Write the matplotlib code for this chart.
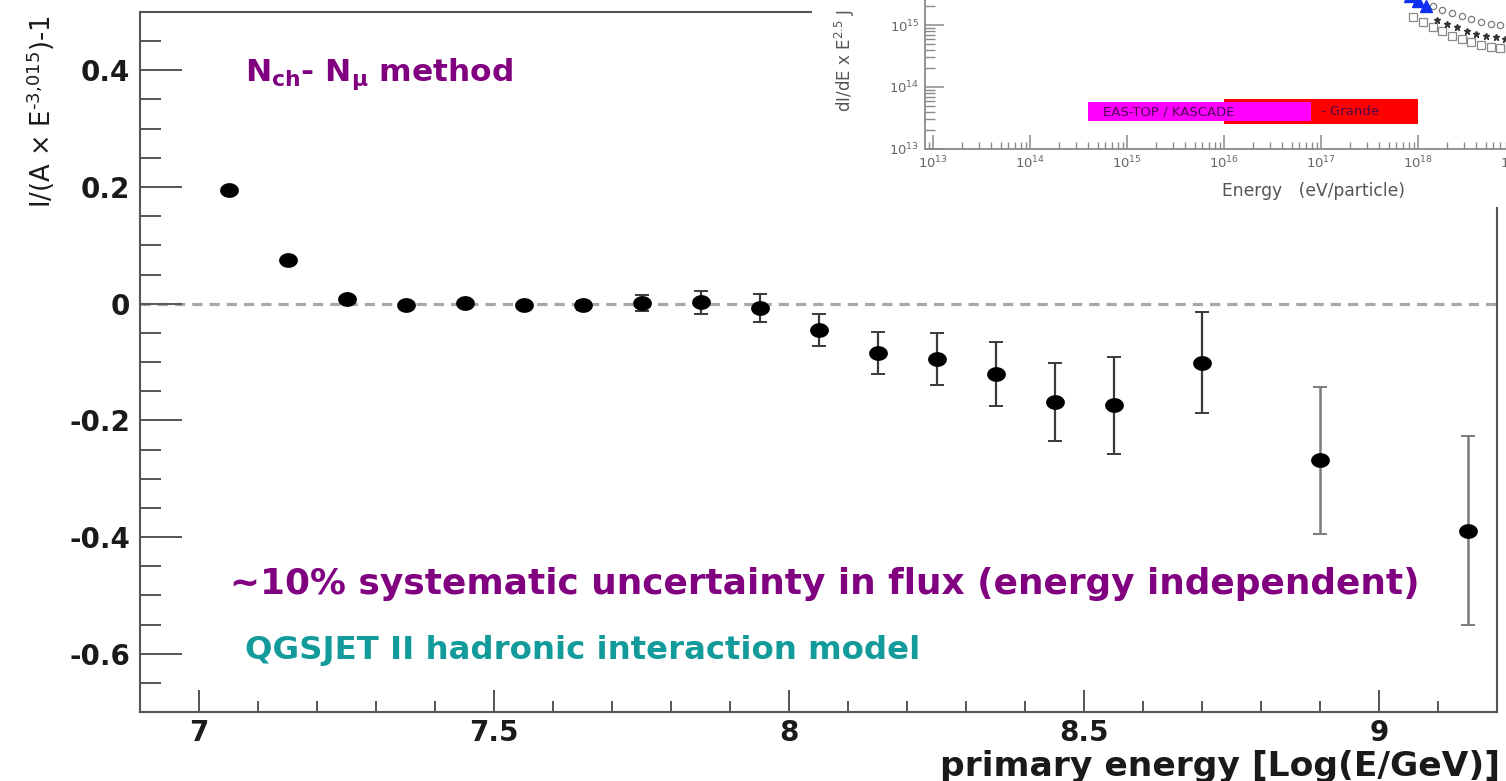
import numpy as np
import matplotlib
matplotlib.use("Agg")
import matplotlib.pyplot as plt
from matplotlib.patches import Rectangle
from matplotlib.path import Path
from matplotlib.ticker import FixedLocator, MultipleLocator, LogLocator, NullFormatter

plt.rcParams['font.family'] = ['DejaVu Sans']
plt.rcParams['mathtext.fontset'] = 'dejavusans'

# ---------------- data (main panel) ----------------
log_energy = [7.05, 7.15, 7.25, 7.35, 7.45, 7.55, 7.65, 7.75, 7.85, 7.95,
              8.05, 8.15, 8.25, 8.35, 8.45, 8.55, 8.70, 8.90, 9.15]
flux_dev = [0.194, 0.074, 0.008, -0.003, 0.001, -0.003, -0.003, 0.001, 0.002, -0.007,
            -0.045, -0.084, -0.095, -0.120, -0.168, -0.174, -0.101, -0.268, -0.389]
flux_err = [0.003, 0.003, 0.004, 0.005, 0.005, 0.006, 0.008, 0.013, 0.019, 0.024,
            0.027, 0.036, 0.045, 0.055, 0.067, 0.083, 0.086, 0.126, 0.162]

y_major = [-0.6, -0.4, -0.2, 0.0, 0.2, 0.4]
y_major_labels = ["-0.6", "-0.4", "-0.2", "0", "0.2", "0.4"]
x_major = [7.0, 7.5, 8.0, 8.5, 9.0]
x_major_labels = ["7", "7.5", "8", "8.5", "9"]

# ---------------- data (inset) ----------------
inset_tri_x = [17.76, 17.84, 17.92, 18.00, 18.08]
inset_tri_y = [15.62, 15.54, 15.46, 15.39, 15.31]
inset_sq_x = [17.95, 18.05, 18.15, 18.25, 18.35, 18.45, 18.55, 18.65, 18.75, 18.85, 18.95]
inset_sq_y = [15.13, 15.05, 14.97, 14.90, 14.83, 14.77, 14.72, 14.68, 14.65, 14.63, 14.62]
inset_circ_x = [18.15, 18.25, 18.35, 18.45, 18.55, 18.65, 18.75, 18.85, 18.95]
inset_circ_y = [15.30, 15.25, 15.20, 15.14, 15.09, 15.05, 15.02, 15.00, 14.98]
inset_star_x = [18.20, 18.30, 18.40, 18.50, 18.60, 18.70, 18.80, 18.90]
inset_star_y = [15.08, 15.02, 14.96, 14.90, 14.86, 14.82, 14.80, 14.78]
bar_labels = ["EAS-TOP / KASCADE", "- Grande"]
bar_eastop = (14.6, 16.9, 13.45, 13.76)   # log10 E from/to, log10 flux from/to
bar_grande = (16.0, 18.0, 13.40, 13.81)

W, H = 1506, 781
fig = plt.figure(figsize=(W / 100, H / 100), dpi=100)

def fx(px):
    return px / W

def fy(py):
    return 1 - py / H

ax = fig.add_axes([fx(140), fy(712), (1497 - 140) / W, (712 - 12) / H])
ax.set_xlim(6.9, 9.2)
ax.set_ylim(-0.7, 0.5)

spine_col = '#555555'
for s in ax.spines.values():
    s.set_color(spine_col)
    s.set_linewidth(1.5)

ax.axhline(0, color='#a8a8a8', lw=2.3, dashes=(3.2, 2.2), zorder=1)

# ellipse marker (the picture is horizontally stretched)
t = np.linspace(0, 2 * np.pi, 40)
ell = Path(np.column_stack([1.3 * np.cos(t), np.sin(t)]), closed=True)

n_dark = 17
ax.errorbar(log_energy[:n_dark], flux_dev[:n_dark], yerr=flux_err[:n_dark], fmt='none',
            ecolor='#3a3a3a', elinewidth=1.6, capsize=4.7, capthick=1.4, zorder=2)
ax.errorbar(log_energy[n_dark:], flux_dev[n_dark:], yerr=flux_err[n_dark:], fmt='none',
            ecolor='#7a7a7a', elinewidth=1.8, capsize=4.7, capthick=1.4, zorder=2)
ax.plot(log_energy, flux_dev, linestyle='none', marker=ell, ms=12.5,
        color='black', zorder=3)

ax.yaxis.set_major_locator(FixedLocator(y_major))
ax.set_yticklabels(y_major_labels)
ax.yaxis.set_minor_locator(MultipleLocator(0.05))
ax.xaxis.set_major_locator(FixedLocator(x_major))
ax.set_xticklabels(x_major_labels)
ax.xaxis.set_minor_locator(MultipleLocator(0.1))

ax.tick_params(axis='y', which='major', direction='in', length=30, width=1.4,
               color=spine_col, pad=7, labelsize=20, labelcolor='#1a1a1a')
ax.tick_params(axis='y', which='minor', direction='in', length=15, width=1.4, color=spine_col)
ax.tick_params(axis='x', which='major', direction='in', length=16, width=1.4,
               color=spine_col, pad=5, labelsize=20, labelcolor='#1a1a1a')
ax.tick_params(axis='x', which='minor', direction='in', length=8, width=1.4, color=spine_col)
for lab in ax.get_xticklabels() + ax.get_yticklabels():
    lab.set_fontweight('bold')

# texts
purple = '#800080'
teal = '#139b9b'
ax.text(fx(245), fy(81), r"N$_{\mathbf{ch}}$- N$_{\mathbf{\mu}}$ method", transform=fig.transFigure,
        color=purple, fontsize=22.5, fontweight='bold', ha='left', va='baseline')
ax.text(fx(230), fy(594), "~10% systematic uncertainty in flux (energy independent)",
        transform=fig.transFigure, color=purple, fontsize=25.8, fontweight='bold',
        ha='left', va='baseline')
ax.text(fx(245), fy(659), "QGSJET II hadronic interaction model", transform=fig.transFigure,
        color=teal, fontsize=23.3, fontweight='bold', ha='left', va='baseline')

fig.text(fx(1500), fy(776), "primary energy [Log(E/GeV)]", color='#1a1a1a',
         fontsize=24.8, fontweight='bold', ha='right', va='baseline')
fig.text(fx(41), fy(112), "I/(A \u00d7 E$^{\u2010 3{,}015}$)-1", rotation=90, color='#1a1a1a',
         fontsize=18.5, ha='center', va='center')

# ---------------- inset ----------------
fig.add_artist(Rectangle((fx(812), fy(207)), 1 - fx(812), fy(0) - fy(207) + 0.01,
                         transform=fig.transFigure, facecolor='white',
                         edgecolor='none', zorder=5))

dec_x = 97.0
dec_y = 62.0
x0_px, y0_px = 933.0, 149.0
lx_min = 13 - (x0_px - 925) / dec_x
lx_max = 19.6
ly_min, ly_max = 13.0, 15.45
left_px = 925
right_px = x0_px + (lx_max - 13) * dec_x
top_px = y0_px - (ly_max - 13) * dec_y
axi = fig.add_axes([fx(left_px), fy(y0_px), (right_px - left_px) / W, (y0_px - top_px) / H],
                   zorder=6)
axi.set_xscale('log')
axi.set_yscale('log')
axi.set_xlim(10 ** lx_min, 10 ** lx_max)
axi.set_ylim(10 ** ly_min, 10 ** ly_max)
axi.patch.set_alpha(0)
icol = '#8a8a8a'
for s in axi.spines.values():
    s.set_color(icol)
    s.set_linewidth(1.3)
axi.spines['top'].set_visible(False)
axi.spines['right'].set_visible(False)
axi.xaxis.set_major_locator(LogLocator(base=10, numticks=20))
axi.xaxis.set_minor_locator(LogLocator(base=10, subs=np.arange(2, 10), numticks=20))
axi.yaxis.set_major_locator(LogLocator(base=10, numticks=20))
axi.yaxis.set_minor_locator(LogLocator(base=10, subs=np.arange(2, 10), numticks=20))
axi.xaxis.set_minor_formatter(NullFormatter())
axi.yaxis.set_minor_formatter(NullFormatter())
axi.tick_params(axis='x', which='major', direction='in', length=10, width=1.1, color=icol,
                labelsize=9.5, labelcolor='#666666', pad=4)
axi.tick_params(axis='x', which='minor', direction='in', length=5, width=1.0, color=icol)
axi.tick_params(axis='y', which='major', direction='in', length=14, width=1.1, color=icol,
                labelsize=9.5, labelcolor='#666666', pad=4)
axi.tick_params(axis='y', which='minor', direction='in', length=7, width=1.0, color=icol)

ex, fl = bar_grande[0:2], bar_grande[2:4]
axi.fill_between([10 ** ex[0], 10 ** ex[1]], 10 ** fl[0], 10 ** fl[1], color='#ff0000',
                 lw=0, zorder=2)
ex, fl = bar_eastop[0:2], bar_eastop[2:4]
axi.fill_between([10 ** ex[0], 10 ** ex[1]], 10 ** fl[0], 10 ** fl[1], color='#ff00ff',
                 lw=0, zorder=3)
axi.text(10 ** 14.75, 10 ** 13.6, bar_labels[0], fontsize=9.5, color='#4a0a50',
         ha='left', va='center', zorder=4)
axi.text(10 ** 17.0, 10 ** 13.6, bar_labels[1], fontsize=9.5, color='#4a0a50',
         ha='left', va='center', zorder=4)

axi.plot(10 ** np.array(inset_sq_x), 10 ** np.array(inset_sq_y), 's', ms=6,
         mfc='white', mec='#8a8a8a', mew=0.9, zorder=4)
axi.plot(10 ** np.array(inset_circ_x), 10 ** np.array(inset_circ_y), 'o', ms=4.5,
         mfc='white', mec='#7a7a7a', mew=0.9, zorder=4)
axi.plot(10 ** np.array(inset_star_x), 10 ** np.array(inset_star_y), '*', ms=4.5,
         color='#333333', zorder=5)
axi.plot(10 ** np.array(inset_tri_x), 10 ** np.array(inset_tri_y), '^', ms=8,
         color='#1030f0', zorder=5, clip_on=False)

fig.text(fx(1313), fy(196), "Energy   (eV/particle)", fontsize=12.3, color='#555555',
         ha='center', va='baseline', zorder=7)
fig.text(fx(845), fy(112), r"dI/dE x E$^{2.5}$ J  (m$^{-2}$ sr$^{-1}$ s$^{-1}$ eV$^{1.5}$)",
         rotation=90, fontsize=12, color='#555555', ha='center', va='bottom', zorder=7)

fig.savefig("out.png", dpi=100)
